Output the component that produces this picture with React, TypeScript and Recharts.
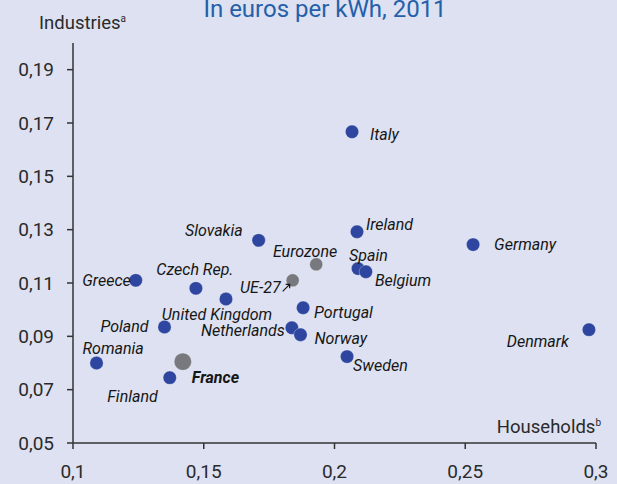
import React from 'react';
import { Scatter, ScatterChart, XAxis, YAxis } from 'recharts';

// Electricity prices, euros per kWh, 2011 (households vs industries)
const COUNTRY_NAMES = [
  'Romania', 'Finland', 'Poland', 'Greece', 'Czech Rep.', 'United Kingdom',
  'Slovakia', 'Portugal', 'Netherlands', 'Norway', 'Sweden', 'Italy',
  'Ireland', 'Spain', 'Belgium', 'Germany', 'Denmark',
];
const COUNTRY_HOUSEHOLDS = [
  0.109, 0.137, 0.135, 0.124, 0.147, 0.1585,
  0.171, 0.188, 0.1837, 0.187, 0.2048, 0.2067,
  0.2086, 0.209, 0.212, 0.253, 0.2973,
];
const COUNTRY_INDUSTRIES = [
  0.080, 0.0745, 0.0935, 0.111, 0.108, 0.104,
  0.126, 0.1007, 0.0932, 0.0906, 0.0824, 0.1667,
  0.1292, 0.1154, 0.1142, 0.1244, 0.0925,
];

const AGGREGATE_NAMES = ['UE-27', 'Eurozone'];
const AGGREGATE_HOUSEHOLDS = [0.184, 0.193];
const AGGREGATE_INDUSTRIES = [0.111, 0.117];

const FRANCE_NAMES = ['France'];
const FRANCE_HOUSEHOLDS = [0.142];
const FRANCE_INDUSTRIES = [0.0805];

const X_TICKS = [0.1, 0.15, 0.2, 0.25, 0.3];
const Y_TICKS = [0.05, 0.07, 0.09, 0.11, 0.13, 0.15, 0.17, 0.19];

// where each name sits relative to its dot (baseline offset)
const LABEL_POS: Record<string, { anchor: 'start' | 'middle' | 'end'; dx: number; dy: number }> = {
  Romania: { anchor: 'start', dx: -14, dy: -9 },
  Finland: { anchor: 'end', dx: -12, dy: 24 },
  France: { anchor: 'start', dx: 9, dy: 21 },
  Poland: { anchor: 'end', dx: -16, dy: 5 },
  Greece: { anchor: 'end', dx: -5, dy: 6 },
  'Czech Rep.': { anchor: 'middle', dx: -1, dy: -13 },
  'United Kingdom': { anchor: 'middle', dx: -9, dy: 21 },
  Slovakia: { anchor: 'end', dx: -16, dy: -4 },
  'UE-27': { anchor: 'end', dx: -12, dy: 13 },
  Eurozone: { anchor: 'end', dx: 21, dy: -7 },
  Portugal: { anchor: 'start', dx: 11, dy: 10 },
  Netherlands: { anchor: 'end', dx: -7, dy: 8 },
  Norway: { anchor: 'start', dx: 14, dy: 9 },
  Sweden: { anchor: 'start', dx: 6, dy: 14 },
  Italy: { anchor: 'start', dx: 18, dy: 8 },
  Ireland: { anchor: 'start', dx: 9, dy: -2 },
  Spain: { anchor: 'start', dx: -9, dy: -8 },
  Belgium: { anchor: 'start', dx: 9, dy: 14 },
  Germany: { anchor: 'start', dx: 21, dy: 5 },
  Denmark: { anchor: 'end', dx: -20, dy: 17 },
};

const BG = '#dde1f1';
const BLUE = '#2e469f';
const GREY = '#77797f';
const FONT = 'Roboto, "Liberation Sans", sans-serif';

const toPoints = (names: string[], xs: number[], ys: number[]) =>
  names.map((name, i) => ({ name, x: xs[i], y: ys[i] }));

const countries = toPoints(COUNTRY_NAMES, COUNTRY_HOUSEHOLDS, COUNTRY_INDUSTRIES);
const aggregates = toPoints(AGGREGATE_NAMES, AGGREGATE_HOUSEHOLDS, AGGREGATE_INDUSTRIES);
const france = toPoints(FRANCE_NAMES, FRANCE_HOUSEHOLDS, FRANCE_INDUSTRIES);

const makeDot = (fill: string, r: number) => (props: any) => {
  const { cx, cy, payload } = props;
  const pos = LABEL_POS[payload.name];
  const bold = payload.name === 'France';
  return (
    <g>
      <circle cx={cx} cy={cy} r={r} fill={fill} stroke="rgba(255,255,255,0.5)" strokeWidth={0.6} />
      {pos && (
        <text
          x={cx + pos.dx}
          y={cy + pos.dy}
          textAnchor={pos.anchor}
          fontFamily={FONT}
          fontStyle="italic"
          fontWeight={bold ? 700 : 400}
          fontSize={16}
          fill="#161616"
        >
          {payload.name}
        </text>
      )}
      {payload.name === 'UE-27' && (
        <path
          d={`M ${cx - 10} ${cy + 11} L ${cx - 3} ${cy + 4} M ${cx - 7} ${cy + 4} L ${cx - 3} ${cy + 4} L ${cx - 3} ${cy + 8}`}
          stroke="#161616"
          strokeWidth={1.2}
          fill="none"
        />
      )}
    </g>
  );
};

const fmtX = (v: number) => String(v).replace('.', ',');
const fmtY = (v: number) => v.toFixed(2).replace('.', ',');

export default function App() {
  return (
    <div
      style={{
        position: 'absolute',
        left: 0,
        top: 0,
        width: 617,
        height: 484,
        background: BG,
        overflow: 'hidden',
      }}
    >
      <ScatterChart width={617} height={484} margin={{ top: 43, right: 21, bottom: 0, left: 0 }}>
        <XAxis
          type="number"
          dataKey="x"
          domain={[0.1, 0.3]}
          ticks={X_TICKS}
          tickFormatter={fmtX}
          height={41}
          stroke="#333"
          strokeWidth={1.5}
          tickSize={6}
          tickMargin={16}
          tick={{ fill: '#2a2a2a', fontSize: 19, fontFamily: FONT }}
          allowDataOverflow
        />
        <YAxis
          type="number"
          dataKey="y"
          domain={[0.05, 0.2]}
          ticks={Y_TICKS}
          tickFormatter={fmtY}
          width={73}
          stroke="#333"
          strokeWidth={1.5}
          tickSize={6}
          tickMargin={13}
          tick={{ fill: '#2a2a2a', fontSize: 19, fontFamily: FONT }}
          allowDataOverflow
        />
        <Scatter data={aggregates} shape={makeDot(GREY, 6.5)} isAnimationActive={false} />
        <Scatter data={france} shape={makeDot(GREY, 8.7)} isAnimationActive={false} />
        <Scatter data={countries} shape={makeDot(BLUE, 6.7)} isAnimationActive={false} />
      </ScatterChart>
      <svg
        width={617}
        height={484}
        style={{ position: 'absolute', left: 0, top: 0, pointerEvents: 'none' }}
      >
        <text x={325} y={17} textAnchor="middle" fontFamily={FONT} fontSize={24} fill="#2460aa">
          In euros per kWh, 2011
        </text>
        <text x={39} y={29} fontFamily={FONT} fontSize={18.5} fill="#2a2a2a">
          Industries
          <tspan fontSize={10} dy={-7}>a</tspan>
        </text>
        <text x={601} y={433} textAnchor="end" fontFamily={FONT} fontSize={18.5} fill="#2a2a2a">
          Households
          <tspan fontSize={10} dy={-7}>b</tspan>
        </text>
      </svg>
    </div>
  );
}
